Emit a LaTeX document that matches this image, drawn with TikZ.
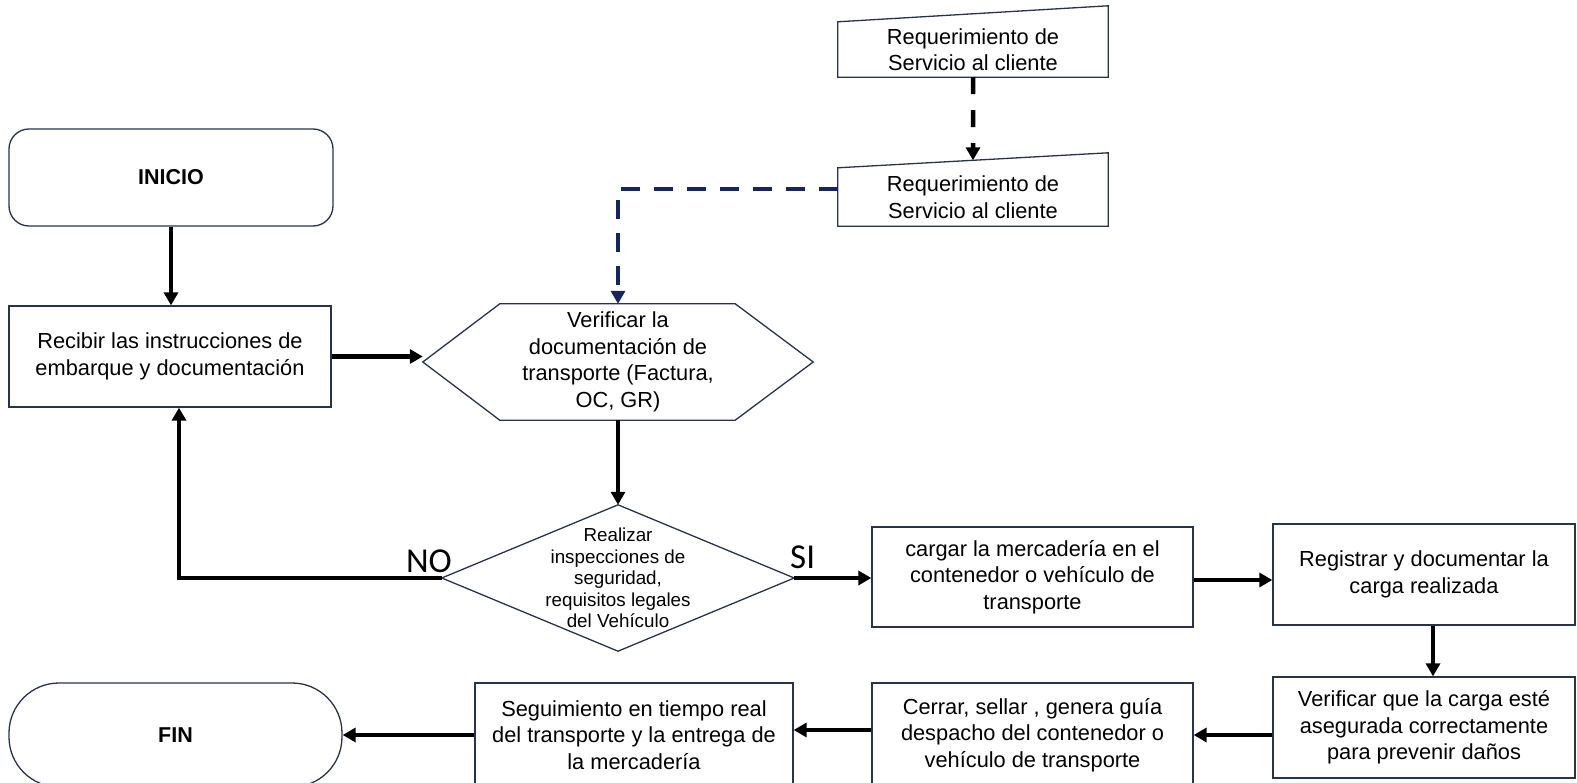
\documentclass[tikz,border=0pt]{standalone}
\usepackage{fontspec}
\setmainfont{Liberation Sans}
\newfontfamily\labelfont{Carlito}
\usetikzlibrary{arrows.meta,calc}
\definecolor{edge}{RGB}{40,50,72}
\definecolor{navy}{RGB}{22,38,88}
\begin{document}
\begin{tikzpicture}[x=1pt,y=-1pt,
  txt/.style={align=center,inner sep=0pt,font=\fontsize{21.8}{26.5}\selectfont},
  box/.style={txt,draw=edge,line width=1.3pt},
  bold/.style={font=\fontsize{21.5}{26}\selectfont\bfseries},
  outline/.style={draw=edge,line width=1.3pt,line join=miter},
  flow/.style={line width=4.5pt,-{Triangle[length=13pt,width=14pt]}},
  lbl/.style={font=\labelfont\fontsize{35}{35}\selectfont,inner sep=0pt}]
\useasboundingbox (0,0) rectangle (1577,783);

% start and first step
\node[box,bold,rounded corners=20pt,minimum width=324pt,minimum height=97pt] (ini) at (171,177.5) {INICIO};
\node[box,minimum width=322pt,minimum height=101pt] (rec) at (170,356.5) {Recibir las instrucciones de\\embarque y documentación};

% manual inputs (sloped top edge)
\node[txt,minimum width=270pt,minimum height=55pt] (m1) at (973,49.5) {Requerimiento de\\Servicio al cliente};
\draw[outline] (m1.south west) -- (m1.north west) -- ([yshift=16pt]m1.north east) -- (m1.south east) -- cycle;
\node[txt,minimum width=270pt,minimum height=58pt] (m2) at (973,197) {Requerimiento de\\Servicio al cliente};
\draw[outline] (m2.south west) -- (m2.north west) -- ([yshift=15pt]m2.north east) -- (m2.south east) -- cycle;

% preparation (hexagon)
\node[txt,minimum width=390pt,minimum height=116pt] (hex) at (618,362) {Verificar la\\documentación de\\transporte (Factura,\\OC, GR)};
\draw[outline] (hex.west) -- ([xshift=77pt]hex.north west) -- ([xshift=-78pt]hex.north east) -- (hex.east)
  -- ([xshift=-78pt]hex.south east) -- ([xshift=77pt]hex.south west) -- cycle;

% decision
\node[txt,font=\fontsize{18.8}{21.5}\selectfont,minimum width=352pt,minimum height=146pt] (dia) at (618,578)
  {Realizar\\inspecciones de\\seguridad,\\requisitos legales\\del Vehículo};
\draw[outline] (dia.north) -- (dia.east) -- (dia.south) -- (dia.west) -- cycle;
\node[lbl,anchor=base east] (no) at (452,572) {NO};
\node[lbl,anchor=base west] (si) at (790,568) {SI};

% loading steps
\node[box,minimum width=321pt,minimum height=100pt] (cg) at (1032.5,577) {cargar la mercadería en el\\contenedor o vehículo de\\transporte};
\node[box,minimum width=302pt,minimum height=101pt] (rg) at (1424,574.5) {Registrar y documentar la\\carga realizada};
\node[box,minimum width=302pt,minimum height=101pt] (vf) at (1424,727.5) {Verificar que la carga esté\\asegurada correctamente\\para prevenir daños};
\node[box,minimum width=321pt,minimum height=104pt] (cr) at (1032.5,735) {Cerrar, sellar , genera guía\\despacho del contenedor o\\vehículo de transporte};
\node[box,minimum width=318pt,minimum height=104pt] (sg) at (634,735) {Seguimiento en tiempo real\\del transporte y la entrega de\\la mercadería};
\node[box,bold,rounded corners=50pt,minimum width=333pt,minimum height=104pt] (fin) at (175.5,735) {FIN};

% connectors
\draw[flow] (ini.south) -- (ini.south |- rec.north);
\draw[flow] (rec.east) -- (rec.east -| hex.west);
\draw[flow,dash pattern=on 17pt off 16pt] (m1.south) -- ($(m2.north west)!0.5!([yshift=15pt]m2.north east)$);
\draw[flow,navy,dash pattern=on 19pt off 14pt] ([yshift=8pt]m2.west) -| (hex.north);
\draw[flow] (hex.south) -- (dia.north);
\draw[flow] (dia.west) -| ([xshift=9pt]rec.south);
\draw[flow] (dia.east) -- (dia.east -| cg.west);
\draw[flow] ([yshift=-3pt]cg.east) -- ([yshift=-3pt]cg.east -| rg.west);
\draw[flow] ([xshift=9pt]rg.south) -- ([xshift=9pt]vf.north);
\draw[flow] (vf.west |- cr.east) -- (cr.east);
\draw[flow] ([yshift=5pt]cr.west) -- ([yshift=5pt]sg.east);
\draw[flow] (sg.west) -- (fin.east);
\end{tikzpicture}
\end{document}
